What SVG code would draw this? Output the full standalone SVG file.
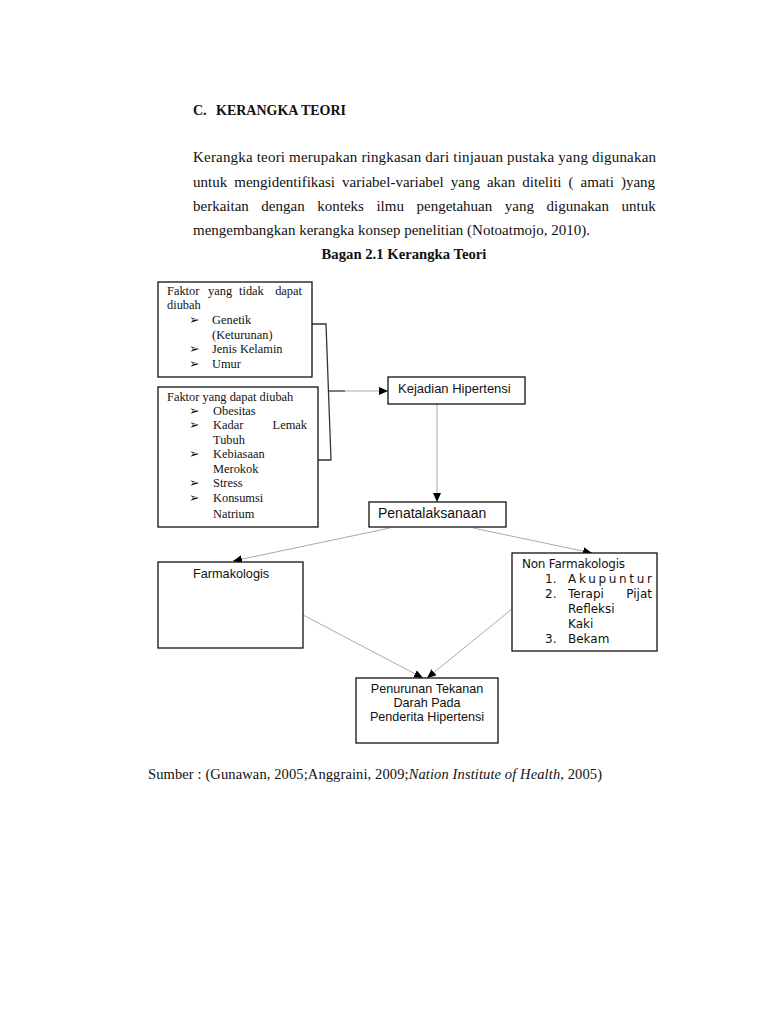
<svg xmlns="http://www.w3.org/2000/svg" width="768" height="1024" viewBox="0 0 768 1024">
<defs>
<style>
.serif{font-family:"Liberation Serif","Times New Roman",serif;fill:#111}
.sans{font-family:"Liberation Sans",Arial,sans-serif;fill:#111}
.dv{font-family:"DejaVu Sans","Liberation Sans",sans-serif;fill:#111;font-size:12px}
.p{font-size:15px}
.box{fill:#fff;stroke:#111;stroke-width:1.3}
.conn{stroke:#aaa;stroke-width:1;fill:none}
.bk{stroke:#333;stroke-width:1.3;fill:none}
.bt{font-size:12.4px}
.bul{font-family:"DejaVu Sans",sans-serif;font-size:12.5px;fill:#111}
</style>
<marker id="ah" markerWidth="10" markerHeight="8" refX="9" refY="4" orient="auto" markerUnits="userSpaceOnUse">
<path d="M0,0 L9,4 L0,8 z" fill="#000"/>
</marker>
</defs>
<rect width="768" height="1024" fill="#fff"/>

<g id="heading">
<text class="serif" x="193" y="115" font-size="14" font-weight="bold">C.</text>
<text class="serif" x="216" y="115" font-size="14" font-weight="bold">KERANGKA TEORI</text>
<text class="serif p" x="193" y="162" textLength="463" lengthAdjust="spacing">Kerangka teori merupakan ringkasan dari tinjauan pustaka yang digunakan</text>
<text class="serif p" x="193" y="187" word-spacing="3.3">untuk mengidentifikasi variabel-variabel yang akan diteliti ( amati )yang</text>
<text class="serif p" x="193" y="211" word-spacing="8.8">berkaitan dengan konteks ilmu pengetahuan yang digunakan untuk</text>
<text class="serif p" x="193" y="235">mengembangkan kerangka konsep penelitian (Notoatmojo, 2010).</text>
<text class="serif" x="404" y="259" font-size="14.7" font-weight="bold" text-anchor="middle">Bagan 2.1 Kerangka Teori</text>
</g>

<g id="connectors">
<polyline class="bk" points="312,324 326,324 331,460 318,460"/>
<line x1="329" y1="391" x2="345" y2="391" stroke="#222" stroke-width="1.2"/>
<line class="conn" x1="345" y1="391" x2="388" y2="391" marker-end="url(#ah)"/>
<line class="conn" x1="437" y1="404" x2="437" y2="502" marker-end="url(#ah)"/>
<line class="conn" x1="390" y1="528" x2="233" y2="561" marker-end="url(#ah)"/>
<line class="conn" x1="473" y1="528" x2="592" y2="553" marker-end="url(#ah)"/>
<line class="conn" x1="303" y1="615" x2="423" y2="678" marker-end="url(#ah)"/>
<line class="conn" x1="512" y1="609" x2="427" y2="678" marker-end="url(#ah)"/>
</g>

<g id="faktor-tidak-dapat-diubah">
<rect class="box" x="158" y="282" width="154" height="95"/>
<text class="serif bt" y="295"><tspan x="167">Faktor</tspan><tspan x="208">yang</tspan><tspan x="239">tidak</tspan></text>
<text class="serif bt" x="302" y="295" text-anchor="end">dapat</text>
<text class="serif bt" x="167" y="309">diubah</text>
<text class="bul" x="189" y="324">➢</text><text class="serif bt" x="212" y="324">Genetik</text>
<text class="serif bt" x="212" y="339">(Keturunan)</text>
<text class="bul" x="189" y="353">➢</text><text class="serif bt" x="212" y="353">Jenis Kelamin</text>
<text class="bul" x="189" y="368">➢</text><text class="serif bt" x="212" y="368">Umur</text>
</g>

<g id="faktor-dapat-diubah">
<rect class="box" x="158" y="387" width="160" height="140"/>
<text class="serif bt" x="167" y="401">Faktor yang dapat diubah</text>
<text class="bul" x="189" y="415">➢</text><text class="serif bt" x="213" y="415">Obesitas</text>
<text class="bul" x="189" y="429">➢</text><text class="serif bt" x="213" y="429">Kadar</text><text class="serif bt" x="307" y="429" text-anchor="end">Lemak</text>
<text class="serif bt" x="213" y="444">Tubuh</text>
<text class="bul" x="189" y="458">➢</text><text class="serif bt" x="213" y="458">Kebiasaan</text>
<text class="serif bt" x="213" y="473">Merokok</text>
<text class="bul" x="189" y="487">➢</text><text class="serif bt" x="213" y="487">Stress</text>
<text class="bul" x="189" y="502">➢</text><text class="serif bt" x="213" y="502">Konsumsi</text>
<text class="serif bt" x="213" y="518">Natrium</text>
</g>

<g id="kejadian-hipertensi">
<rect class="box" x="388" y="377" width="137" height="27"/>
<text class="sans" x="398" y="393" font-size="13">Kejadian Hipertensi</text>
</g>

<g id="penatalaksanaan">
<rect class="box" x="369" y="502" width="137" height="25"/>
<text class="sans" x="378" y="518" font-size="14">Penatalaksanaan</text>
</g>

<g id="farmakologis">
<rect class="box" x="158" y="562" width="145" height="86"/>
<text class="sans" x="193" y="578" font-size="12.7">Farmakologis</text>
</g>

<g id="non-farmakologis">
<rect class="box" x="512" y="553" width="145" height="98"/>
<text class="dv" x="522" y="568" textLength="103" lengthAdjust="spacing">Non Farmakologis</text>
<text class="dv" x="545" y="583">1.</text><text class="dv" x="568" y="583" textLength="84" lengthAdjust="spacing">Akupuntur</text>
<text class="dv" x="545" y="598">2.</text><text class="dv" x="568" y="598">Terapi</text><text class="dv" x="652" y="598" text-anchor="end">Pijat</text>
<text class="dv" x="568" y="613">Refleksi</text>
<text class="dv" x="568" y="628">Kaki</text>
<text class="dv" x="545" y="643">3.</text><text class="dv" x="568" y="643">Bekam</text>
</g>

<g id="penurunan-tekanan-darah">
<rect class="box" x="356" y="678" width="142" height="65"/>
<text class="sans" x="427" y="693" font-size="12.6" text-anchor="middle">Penurunan Tekanan</text>
<text class="sans" x="427" y="707" font-size="12.6" text-anchor="middle">Darah Pada</text>
<text class="sans" x="427" y="721" font-size="12.6" text-anchor="middle">Penderita Hipertensi</text>
</g>

<g id="sumber">
<text class="serif" x="148" y="779" font-size="14.5" textLength="454" lengthAdjust="spacing">Sumber : (Gunawan, 2005;Anggraini, 2009;<tspan font-style="italic">Nation Institute of Health</tspan>, 2005)</text>
</g>
</svg>
